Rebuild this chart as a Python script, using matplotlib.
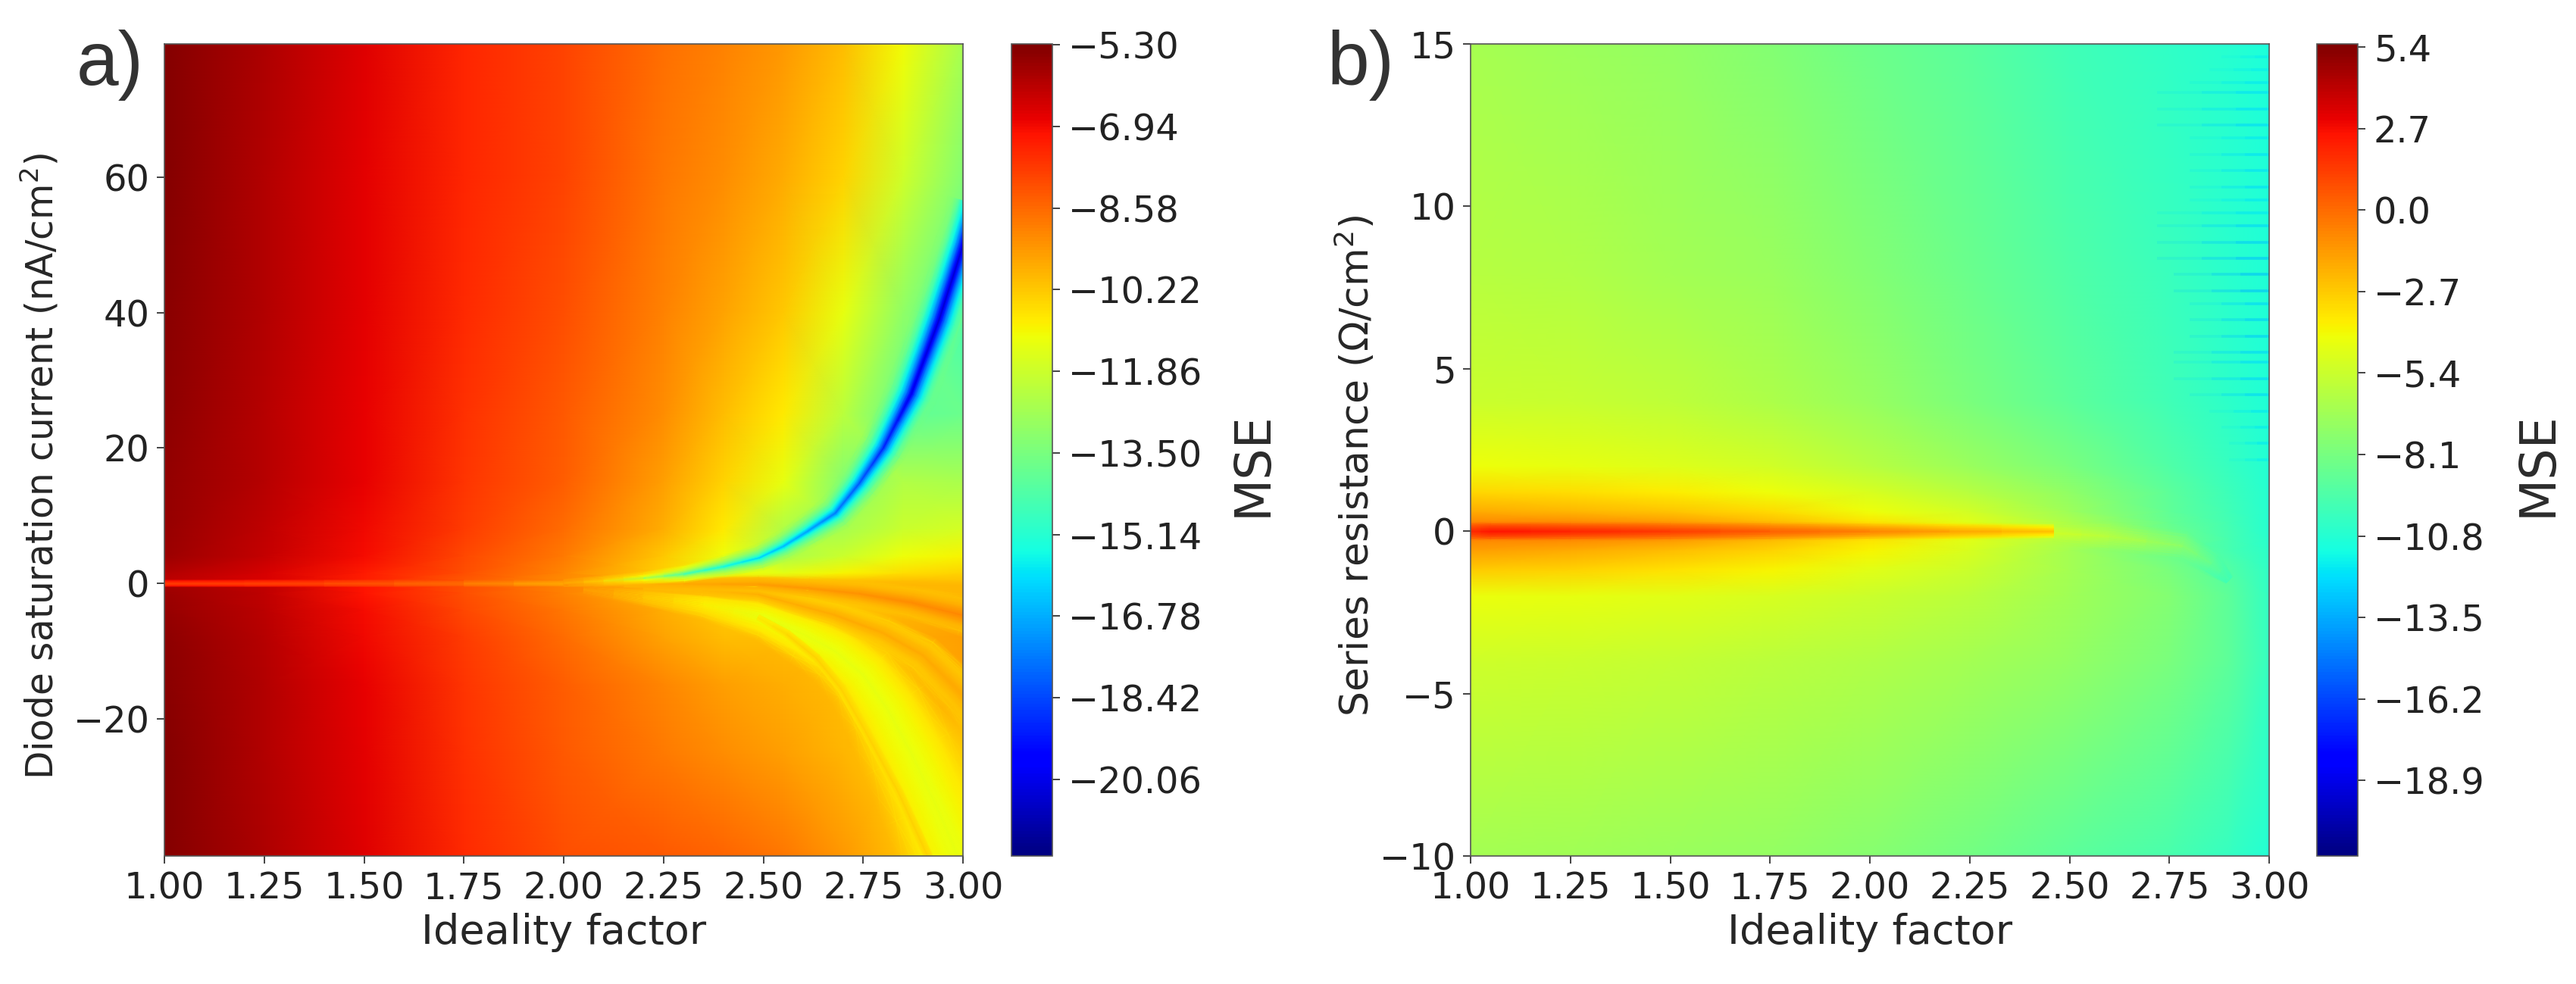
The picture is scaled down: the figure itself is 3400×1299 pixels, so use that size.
import numpy as np
import matplotlib
matplotlib.use('Agg')
import matplotlib.pyplot as plt
from matplotlib.colors import Normalize
from matplotlib.cm import ScalarMappable

W, H = 3400, 1299

# panel a background
xa = [1.0, 1.25, 1.5, 1.75, 2.0, 2.25, 2.4, 2.55, 2.7, 2.85, 3.0]
ya = [79.7, 60, 40, 25, 15, 8, 4, 1.5, 0.3, -0.3, -1.5, -4, -8, -15, -25, -40.3]
za = [
    [-5.35, -5.95, -6.65, -7.4, -7.9, -8.7, -9.0, -9.4, -10.0, -11.1, -12.6],
    [-5.4, -6.0, -6.7, -7.4, -7.9, -8.8, -9.2, -9.7, -10.4, -11.8, -13.3],
    [-5.45, -6.0, -6.7, -7.5, -8.1, -9.0, -9.6, -10.2, -11.3, -13.0, -14.5],
    [-5.5, -6.05, -6.75, -7.6, -8.3, -9.2, -10.0, -10.8, -12.2, -14.0, -13.8],
    [-5.55, -6.1, -6.8, -7.7, -8.4, -9.5, -10.4, -11.3, -13.3, -12.4, -12.5],
    [-5.6, -6.2, -6.9, -7.8, -8.6, -9.8, -10.8, -12.4, -12.6, -11.9, -11.7],
    [-5.7, -6.3, -7.0, -8.0, -8.9, -10.2, -11.2, -12.5, -11.9, -11.2, -11.0],
    [-6.0, -6.5, -7.2, -8.1, -9.1, -10.4, -11.2, -11.4, -11.0, -10.6, -10.4],
    [-6.2, -6.6, -7.3, -8.3, -9.2, -10.0, -10.3, -10.3, -10.0, -10.0, -10.1],
    [-5.8, -6.2, -7.1, -8.1, -9.0, -9.8, -10.1, -10.2, -10.0, -9.9, -9.9],
    [-5.7, -6.2, -7.1, -8.1, -9.0, -10.0, -10.4, -10.4, -10.2, -10.0, -9.9],
    [-5.6, -6.15, -7.0, -8.0, -8.8, -9.8, -10.2, -10.3, -10.2, -9.9, -9.7],
    [-5.5, -6.1, -6.9, -7.8, -8.6, -9.6, -10.0, -10.0, -10.0, -9.7, -9.5],
    [-5.45, -6.0, -6.8, -7.7, -8.4, -9.1, -9.5, -9.8, -10.0, -10.0, -9.6],
    [-5.4, -6.0, -6.7, -7.6, -8.3, -8.9, -9.2, -9.5, -9.9, -10.2, -10.3],
    [-5.35, -5.95, -6.65, -7.5, -8.1, -8.3, -8.5, -8.8, -9.4, -10.1, -11.2],
]

# blue valley in panel a
ridge_x = [2.0, 2.1, 2.2, 2.3, 2.4, 2.49, 2.55, 2.61, 2.68, 2.74, 2.8, 2.87, 2.94, 3.0, 3.03]
ridge_y = [0.1, 0.4, 0.8, 1.4, 2.5, 3.8, 5.5, 7.7, 10.4, 14.8, 20, 28, 39, 50, 56]
ridge_core = [-9.5, -10.5, -12.2, -14.5, -15.5, -16.2, -16.6, -17, -17.6, -18.2, -19, -20, -20.5, -20.5, -20.5]
ridge_edge = [-9.3, -9.9, -10.3, -11, -11.8, -12.4, -12.6, -12.8, -13, -13.2, -13.3, -13.6, -13.5, -13.2, -13.2]
ridge_w = [10, 14, 18, 24, 30, 36, 42, 46, 52, 58, 64, 70, 75, 75, 75]

# thin line along y=0 in panel a
zero_x = [1.0, 1.4, 1.75, 2.0, 2.15]
zero_y = [0, 0, 0, 0, 0]
zero_core = [-7.8, -8.0, -8.8, -9.9, -9.9]
zero_edge = [-6.6, -7.2, -8.2, -9.1, -9.8]
zero_w = [10, 10, 10, 10, 10]

# yellow band and the orange bands under y=0 in panel a
yel_x = [2.05, 2.2, 2.35, 2.5, 2.6, 2.68, 2.75, 2.81, 2.87, 2.93, 3.0, 3.06]
yel_y = [-0.9, -2, -3, -5, -7.5, -10, -13.5, -18.5, -25, -32.5, -42, -50]
yel_core = [-9.4, -10.2, -10.9, -11.3, -11.3, -11.3, -11.3, -11.3, -11.3, -11.3, -11.3, -11.3]
yel_edge = [-9.2, -9.8, -10.2, -10.2, -10.2, -10.1, -10.1, -10.1, -10.1, -10.2, -10.3, -10.3]
yel_w = [14, 26, 44, 66, 85, 100, 115, 130, 145, 150, 160, 160]

band1_x = [2.15, 2.3, 2.487, 2.614, 2.74, 2.87, 3.0, 3.05]
band1_y = [-0.03, -0.05, -0.1, -0.7, -1.5, -2.8, -4.7, -5.6]
band1_core = [-9.9, -9.7, -9.5, -9.4, -9.3, -9.2, -9.1, -9.1]
band1_edge = [-9.8, -10.0, -10.1, -10.2, -10.2, -10.2, -10.2, -10.2]
band1_w = [12, 16, 22, 30, 38, 46, 56, 56]

band2_x = [2.2, 2.35, 2.487, 2.677, 2.8, 2.9, 3.0, 3.05]
band2_y = [-0.5, -1.0, -1.6, -4.6, -7.3, -10.6, -16.5, -20]
band2_core = [-10.0, -10.0, -9.8, -9.7, -9.7, -9.7, -9.7, -9.7]
band2_edge = [-9.9, -10.1, -10.4, -10.4, -10.4, -10.4, -10.3, -10.3]
band2_w = [12, 18, 24, 36, 46, 56, 64, 64]

band3_x = [2.487, 2.56, 2.633, 2.695, 2.758, 2.84, 2.91, 2.95]
band3_y = [-5, -7.5, -11, -15.5, -22, -31, -40, -46]
band3_core = [-10.9, -10.5, -10.4, -10.4, -10.4, -10.4, -10.4, -10.4]
band3_edge = [-10.9, -10.8, -10.7, -10.7, -10.7, -10.7, -10.7, -10.7]
band3_w = [8, 12, 12, 14, 14, 14, 14, 14]

# panel b background
xb = [1.0, 1.25, 1.5, 1.75, 2.0, 2.25, 2.5, 2.75, 2.9, 3.0]
yb = [15, 8, 4, 2, 1.2, 0.6, 0.25, -0.25, -0.6, -1.2, -2, -4, -10]
zb = [
    [-6.5, -6.8, -7.2, -7.7, -8.4, -9.1, -9.9, -10.4, -10.7, -11.0],
    [-6.0, -6.2, -6.6, -7.0, -7.7, -8.5, -9.4, -10.1, -10.6, -10.9],
    [-5.4, -5.5, -5.8, -6.3, -7.1, -8.0, -9.0, -9.9, -10.5, -10.9],
    [-4.2, -4.4, -4.7, -5.2, -6.0, -6.9, -8.0, -9.4, -10.2, -10.8],
    [-3.1, -3.3, -3.7, -4.2, -5.0, -6.0, -7.3, -9.0, -10.0, -10.7],
    [-1.8, -2.1, -2.5, -3.2, -4.2, -5.2, -6.8, -8.8, -9.9, -10.7],
    [-0.7, -0.9, -1.3, -2.2, -3.4, -4.6, -6.3, -8.6, -9.8, -10.7],
    [-0.7, -0.9, -1.3, -2.2, -3.4, -4.6, -6.2, -8.2, -9.7, -10.6],
    [-1.5, -1.8, -2.3, -3.0, -3.9, -5.0, -6.6, -8.5, -9.7, -10.5],
    [-2.8, -3.0, -3.4, -3.9, -4.6, -5.4, -6.6, -8.0, -9.3, -10.4],
    [-4.3, -4.4, -4.6, -5.0, -5.4, -5.9, -6.7, -7.7, -9.0, -10.3],
    [-5.3, -5.4, -5.6, -5.9, -6.2, -6.6, -7.2, -8.0, -9.0, -10.2],
    [-6.6, -6.7, -6.9, -7.2, -7.6, -8.2, -9.0, -9.6, -10.2, -10.8],
]

# red line along y=0 and its faint tail in panel b
core_x = [1.0, 1.05, 1.25, 1.5, 1.75, 2.0, 2.2, 2.46]
core_y = [0, 0, 0, 0, 0, 0, 0, 0]
core_val = [1.8, 2.5, 2.0, 1.3, 0.3, -0.7, -1.6, -2.6]
core_edge = [-0.7, -0.7, -0.9, -1.3, -2.2, -3.4, -4.3, -5.6]
core_w = [26, 26, 26, 26, 26, 25, 24, 22]

tail_x = [2.46, 2.6, 2.785, 2.857, 2.9]
tail_y = [-0.05, -0.15, -0.45, -1.0, -1.5]
tail_val = [-5.2, -6.0, -7.5, -8.7, -9.9]
tail_edge = [-6.1, -7.1, -8.4, -9.3, -9.9]
tail_w = [30, 40, 40, 34, 14]

# horizontal streaks at the right of panel b
streak_y = [14.6, 14.2, 13.8, 13.5, 13.0, 12.5, 12.1, 11.6, 11.1, 10.6, 10.2, 9.8, 9.4, 8.9, 8.4, 7.9,
            7.4, 7.0, 6.5, 6.0, 5.5, 5.2, 4.7, 4.2, 3.7, 3.2, 2.7, 2.2]
streak_start = [2.88, 2.85, 2.8, 2.72, 2.72, 2.72, 2.8, 2.8, 2.8, 2.8, 2.8, 2.72, 2.72, 2.72, 2.72, 2.76,
                2.76, 2.8, 2.8, 2.8, 2.76, 2.76, 2.76, 2.8, 2.85, 2.88, 2.9, 2.9]
streak_val = [-11.8, -11.8, -12.0, -12.2, -12.2, -12.4, -12.0, -12.2, -12.2, -12.3, -12.0, -12.0, -12.5, -12.8, -13.0, -13.2,
              -13.2, -12.5, -12.8, -12.8, -12.5, -12.3, -12.5, -12.5, -12.0, -11.9, -12.0, -11.8]

ticks_a = [-5.30, -6.94, -8.58, -10.22, -11.86, -13.50, -15.14, -16.78, -18.42, -20.06]
ticks_b = [5.4, 2.7, 0.0, -2.7, -5.4, -8.1, -10.8, -13.5, -16.2, -18.9]
x_ticks = [1.0, 1.25, 1.5, 1.75, 2.0, 2.25, 2.5, 2.75, 3.0]

norm_a = Normalize(-21.6, -5.28)
norm_b = Normalize(-21.4, 5.5)

TICK = 34.5
GREY = '#262626'

# position across a band, -1 and 1 are its two edges
ACROSS = np.array([-1, -0.75, -0.55, -0.4, -0.28, -0.18, -0.1, -0.04, 0,
                   0.04, 0.1, 0.18, 0.28, 0.4, 0.55, 0.75, 1])


def soft_band(ax, xs, ys, core, edge, width, norm, sharp=1.6):
    # ribbon mesh along a curve, deep in the middle and fading out at both edges
    pts = ax.transData.transform(np.column_stack([xs, ys]))
    tx, ty = np.gradient(pts[:, 0]), np.gradient(pts[:, 1])
    ln = np.hypot(tx, ty)
    nx, ny = -ty / ln, tx / ln
    half = np.array(width, float) / 2
    X = np.zeros((len(ACROSS), len(xs)))
    Y = np.zeros_like(X)
    for i, u in enumerate(ACROSS):
        p = np.column_stack([pts[:, 0] + nx * half * u, pts[:, 1] + ny * half * u])
        p = ax.transData.inverted().transform(p)
        X[i], Y[i] = p[:, 0], p[:, 1]
    g = (1 - np.abs(ACROSS)) ** sharp
    vals = np.outer(g, np.array(core, float)) + np.outer(1 - g, np.array(edge, float))
    rgba = plt.cm.jet(norm(vals))
    rgba[..., 3] = np.clip((1 - np.abs(ACROSS)) * 2.5, 0, 1)[:, None]
    ax.pcolormesh(X, Y, rgba, shading='gouraud')


def make_panel(left, bar_left, x, y, z, norm, ylim, yticks, ylabel, ylabel_size, pad, cticks, fmt, mse_x):
    ax = fig.add_axes([left / W, 1 - 1130 / H, 1054 / W, 1072 / H])
    ax.pcolormesh(x, y, z, shading='gouraud', cmap='jet', norm=norm)
    ax.set_xlim(1, 3)
    ax.set_ylim(*ylim)
    ax.set_xticks(x_ticks)
    ax.set_xticklabels(['%.2f' % v for v in x_ticks])
    ax.set_yticks(yticks)
    ax.tick_params(labelsize=TICK, length=7, width=1.2, pad=7, colors='#222222')
    ax.set_xlabel('Ideality factor', fontsize=39, color=GREY, labelpad=6)
    ax.set_ylabel(ylabel, fontsize=ylabel_size, color=GREY, labelpad=pad, y=0.48)
    for s in ax.spines.values():
        s.set_linewidth(1.2)
        s.set_color('#555555')

    cax = fig.add_axes([bar_left / W, 1 - 1130 / H, 54 / W, 1072 / H])
    cb = fig.colorbar(ScalarMappable(norm=norm, cmap='jet'), cax=cax)
    cb.set_ticks(cticks, labels=[(fmt % v).replace('-', '\u2212') for v in cticks])
    cb.ax.tick_params(labelsize=TICK, length=7, width=1.2, pad=8, colors='#222222')
    cb.outline.set_linewidth(1.2)
    cb.outline.set_edgecolor('#555555')
    fig.text(mse_x / W, 1 - 613 / H, 'MSE', rotation=90, fontsize=47, color='#2b2b2b',
             ha='center', va='center')
    return ax


fig = plt.figure(figsize=(W / 100, H / 100), dpi=100)

ax_a = make_panel(217, 1335, xa, ya, za, norm_a, (-40.3, 79.7), [-20, 0, 20, 40, 60],
                  'Diode saturation current (nA/cm$^2$)', 35, 12, ticks_a, '%.2f', 1654)
soft_band(ax_a, yel_x, yel_y, yel_core, yel_edge, yel_w, norm_a, sharp=0.8)
soft_band(ax_a, band3_x, band3_y, band3_core, band3_edge, band3_w, norm_a)
soft_band(ax_a, band2_x, band2_y, band2_core, band2_edge, band2_w, norm_a)
soft_band(ax_a, band1_x, band1_y, band1_core, band1_edge, band1_w, norm_a)
soft_band(ax_a, zero_x, zero_y, zero_core, zero_edge, zero_w, norm_a, sharp=0.8)
soft_band(ax_a, ridge_x, ridge_y, ridge_core, ridge_edge, ridge_w, norm_a, sharp=2.2)

ax_b = make_panel(1941, 3058, xb, yb, zb, norm_b, (-10, 15), [-10, -5, 0, 5, 10, 15],
                  'Series resistance (\u03a9/cm$^2$)', 37.5, 2, ticks_b, '%.1f', 3350)
soft_band(ax_b, tail_x, tail_y, tail_val, tail_edge, tail_w, norm_b)
soft_band(ax_b, core_x, core_y, core_val, core_edge, core_w, norm_b, sharp=0.8)
for y0, x0, v in zip(streak_y, streak_start, streak_val):
    # streaks get stronger towards the right edge
    for frac, a in zip([0.0, 0.4, 0.7], [0.15, 0.22, 0.3]):
        ax_b.hlines(y0, x0 + frac * (3 - x0), 3, color=plt.cm.jet(norm_b(v)), lw=2.6, alpha=a)

fig.text(101 / W, 1 - 112 / H, 'a)', fontsize=72, family='Liberation Sans', color='#333333')
fig.text(1752 / W, 1 - 112 / H, 'b)', fontsize=72, family='Liberation Sans', color='#333333')

fig.savefig('out.png', dpi=100)
